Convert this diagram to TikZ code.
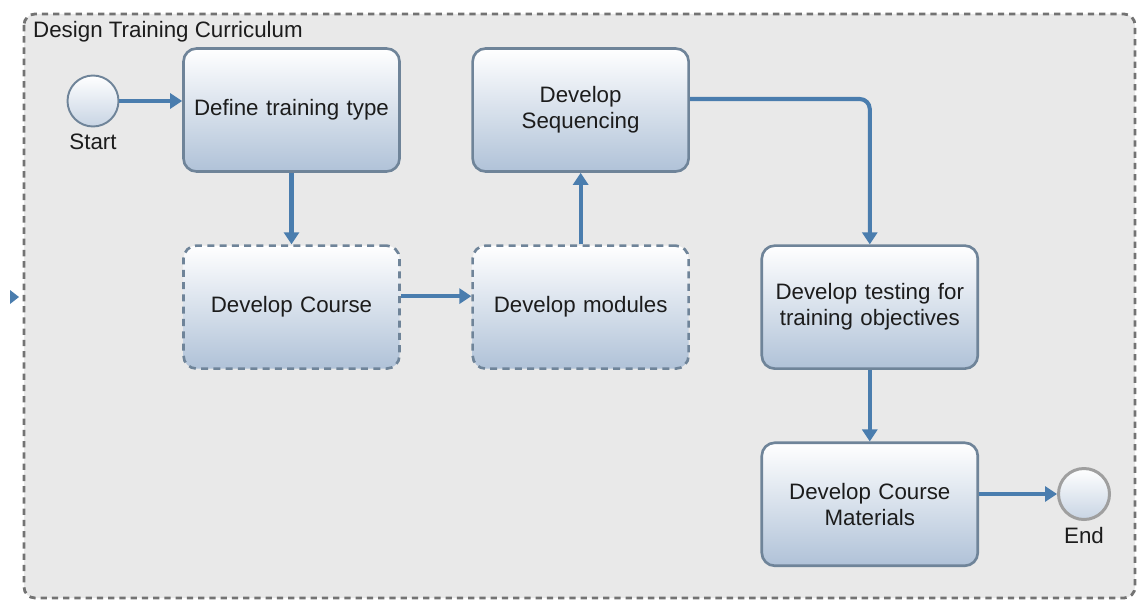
\documentclass[tikz,border=0pt]{standalone}
\usepackage{fontspec}
\setmainfont{Liberation Sans}
\usetikzlibrary{arrows.meta,calc,positioning}

\definecolor{flowblue}{HTML}{4A7DAE}
\definecolor{boxline}{HTML}{6F8499}
\definecolor{boxshade}{HTML}{B0C2D8}
\definecolor{poolfill}{HTML}{E9E9E9}
\definecolor{poolline}{HTML}{737373}
\definecolor{txtgray}{HTML}{1C1C1C}

\tikzset{
  task/.style={draw=boxline, line width=1.5pt, rounded corners=0.26cm,
    top color=white, bottom color=boxshade, minimum width=4.32cm,
    minimum height=2.46cm, text width=4cm, align=center,
    text=txtgray, font=\fontsize{12.7}{14.8}\selectfont},
  subtask/.style={task, dashed, dash pattern=on 4pt off 3pt},
  event/.style 2 args={circle, draw=#1, top color=white,
    bottom color=boxshade!70, minimum size=1.02cm, inner sep=0pt,
    label distance=0.02cm, label={[text=txtgray,
    font=\fontsize{12.7}{14.8}\selectfont]below:#2}},
  flow/.style={draw=flowblue, line width=2.3pt,
    -{Triangle[length=0.24cm,width=0.3cm]}},
}

\begin{document}
\begin{tikzpicture}[node distance={1.43cm and 1.41cm}]
    \useasboundingbox (0,0) rectangle (22.76,-12.04);
    %%%%%%%%%%%%%%%%%pool
    \draw[poolline, fill=poolfill, line width=1.6pt, dash pattern=on 3.6pt off 2.8pt,
      rounded corners=0.22cm] (0.48,-0.28) rectangle (22.7,-11.96);
    \fill[flowblue] (0.2,-5.8) -- (0.38,-5.94) -- (0.2,-6.08) -- cycle;
    \node[anchor=west, text=txtgray, font=\fontsize{12.7}{14.8}\selectfont]
      (pooltitle) at (0.54,-0.64) {Design Training Curriculum};

    %%%%%%%%%%%%%%%%%tasks
    \node[task] (define) at (5.83,-2.2) {Define training type};
    \node[subtask, below=of define] (course) {Develop Course};
    \node[subtask, right=of course] (modules) {Develop modules};
    \node[task, above=of modules] (sequencing) {Develop\\Sequencing};
    \node[task, right=of modules] (testing) {Develop testing for training objectives};
    \node[task, below=of testing] (materials) {Develop Course\\Materials};

    %%%%%%%%%%%%%%%%%events
    \node[event={boxline}{Start}, line width=1.1pt] (start) at (1.86,-2.02) {};
    \node[event={gray!75}{End}, line width=1.7pt] (end) at (21.68,-9.88) {};

    %%%%%%%%%%%%%%%%%flows
    \draw[flow] (start) -- (start -| define.west);
    \draw[flow] (define) -- (course);
    \draw[flow] ([yshift=0.22cm]course.east) -- ([yshift=0.22cm]modules.west);
    \draw[flow] (modules) -- (sequencing);
    \draw[flow, rounded corners=0.2cm] ([yshift=0.22cm]sequencing.east) -| (testing.north);
    \draw[flow] (testing) -- (materials);
    \draw[flow] (materials.east |- end) -- (end);
\end{tikzpicture}
\end{document}
